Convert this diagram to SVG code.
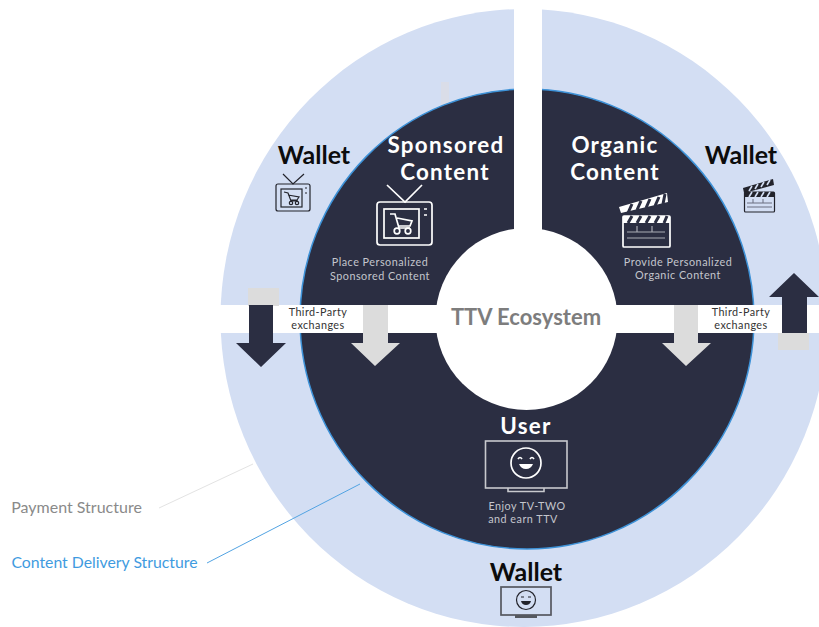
<svg xmlns="http://www.w3.org/2000/svg" width="819" height="627" viewBox="0 0 819 627">
<style>
text{font-family:"Lato","Open Sans","Liberation Sans",sans-serif;text-anchor:middle}
.h{font-size:22.400px;letter-spacing:1.25px;font-weight:700;fill:#fff}
.w{font-size:25px;font-weight:700;fill:#0c0c0c}
.s{font-size:10.800px;letter-spacing:.5px;fill:#c4c6cd}
.t{font-size:10.800px;letter-spacing:.45px;fill:#333}
.iw{fill:none;stroke:#fff;stroke-width:1.7}
.ik{fill:none;stroke:#22232b;stroke-width:1.2}
.a{fill:#2b2e42}.g{fill:#dcdcdc}
</style>
<g id="rings">
<ellipse cx="524" cy="318" rx="303.5" ry="309" fill="#d3def3"/>
<rect x="441" y="82" width="8" height="24" fill="#dadde8"/>
<ellipse cx="527" cy="319" rx="227" ry="230" fill="#2b2e42" stroke="#3d92d8" stroke-width="1.5"/>
<rect x="514" y="0" width="28" height="240" fill="#fff"/>
<rect x="220" y="305" width="599" height="28" fill="#fff"/>
<circle cx="526.500" cy="319" r="91" fill="#fff"/>
<text x="526" y="325" style="font-size:22px;font-weight:700;fill:#7d7d7d">TTV Ecosystem</text>
</g>
<g id="connectors">
<rect x="248" y="288" width="31" height="18" class="g"/>
<path class="a" d="M249 305H273V343H286L261 367L236 343H249Z"/>
<path class="g" d="M363 305H388V343H400L375 366L351 343H363Z"/>
<path class="g" d="M674 305H698V343H711L686 366L662 343H674Z"/>
<rect x="778" y="333" width="31" height="17" class="g"/>
<path class="a" d="M782 333H807V297H819L794 273L769 297H782Z"/>
<line x1="159" y1="508" x2="253" y2="464" stroke="#e3e3e3"/>
<line x1="207" y1="563" x2="360" y2="484" stroke="#52a3e2"/>
</g>
<g id="sponsored">
<text class="h" x="446" y="153">Sponsored</text>
<text class="h" x="445" y="180">Content</text>
<path class="iw" d="M387 185L405 202L422 185"/>
<rect class="iw" x="377" y="202" width="55" height="43" rx="3"/>
<rect class="iw" x="384" y="209" width="35" height="29"/>
<path class="iw" d="M424 209H427M424 215H427"/>
<path class="iw" d="M390 214H395L399 228H410M397 218L412 221L410 226H398" stroke-width="1.4"/>
<circle class="iw" cx="397" cy="231" r="2.8" stroke-width="1.4"/>
<circle class="iw" cx="408" cy="231" r="2.8" stroke-width="1.4"/>
<text class="s" x="380" y="266">Place Personalized</text>
<text class="s" x="380" y="280">Sponsored Content</text>
</g>
<g id="organic">
<text class="h" x="615" y="153">Organic</text>
<text class="h" x="615" y="180">Content</text>
<path d="M619 207L667 193L668 202L621 213Z" fill="#fff"/>
<path d="M628 213L632 204M637 210L641 201M646 208L650 199M655 206L659 197M663 204L665 194" stroke="#2b2e42" stroke-width="3"/>
<rect class="iw" x="623" y="216" width="47" height="31" rx="1"/>
<rect x="623" y="216" width="47" height="7" fill="#fff"/>
<path d="M628 223L632 216M637 223L641 216M646 223L650 216M655 223L659 216M664 223L667 216" stroke="#2b2e42" stroke-width="3"/>
<path d="M627 232H665M627 238H665M637 226V232M652 226V232" fill="none" stroke="#a9abb4" stroke-width="1.2"/>
<text class="s" x="678" y="266">Provide Personalized</text>
<text class="s" x="678" y="279">Organic Content</text>
</g>
<g id="user">
<text class="h" x="526" y="434">User</text>
<rect x="485.500" y="441" width="81.500" height="47" fill="none" stroke="#c8c9ce" stroke-width="1.6"/>
<path d="M508 488V491.500H544V488" fill="none" stroke="#c8c9ce" stroke-width="1.6"/>
<circle class="iw" cx="526" cy="463" r="15" stroke-width="1.5"/>
<path d="M518 459Q520 456 522 459M530 459Q532 456 534 459" class="iw" stroke-width="1.2"/>
<path d="M519 464H533Q531 469 526 469Q521 469 519 464Z" fill="#fff"/>
<text class="s" x="527" y="510">Enjoy TV-TWO</text>
<text class="s" x="523" y="523">and earn TTV</text>
</g>
<g id="wallet-left">
<text class="w" x="314" y="164">Wallet</text>
<path class="ik" d="M283 174L293 184L304 174"/>
<rect class="ik" x="276" y="184" width="34" height="27" rx="2"/>
<rect class="ik" x="281" y="189" width="21" height="18"/>
<path class="ik" d="M284 192L288 193L291 201H298M288 195L299 197L297 200H290" stroke-width="1"/>
<circle class="ik" cx="291" cy="203" r="1.7" stroke-width="1"/>
<circle class="ik" cx="297" cy="203" r="1.7" stroke-width="1"/>
<path class="ik" d="M305 188H307M305 193H307"/>
</g>
<g id="wallet-right">
<text class="w" x="741" y="164">Wallet</text>
<path d="M743 188L773 179L774 185L744 193Z" fill="#22232b"/>
<path d="M749 191L752 186M755 189L758 184M761 187L764 182M767 185L770 180" stroke="#d3def3" stroke-width="1.6"/>
<rect class="ik" x="744.500" y="192" width="30" height="20" rx="1"/>
<rect x="745" y="192" width="29" height="5" fill="#22232b"/>
<path d="M749 197L752 192M755 197L758 192M761 197L764 192M767 197L770 192" stroke="#d3def3" stroke-width="1.6"/>
<path d="M747 203H772M747 207H772M753 199V203M763 199V203" stroke="#6b6f80" fill="none"/>
</g>
<g id="wallet-bottom">
<text class="w" x="526" y="581">Wallet</text>
<rect x="501" y="587" width="50" height="28" fill="none" stroke="#55585f" stroke-width="1.7"/>
<rect x="515" y="615" width="22" height="3" fill="#55585f"/>
<circle class="ik" cx="526" cy="600" r="9.500" stroke-width="1.4"/>
<path d="M521 597H524M528 597H531" class="ik"/>
<path d="M521 601H531Q530 605 526 605Q522 605 521 601Z" fill="#22232b"/>
</g>
<g id="exchange-left">
<text class="t" x="318" y="316">Third-Party</text>
<text class="t" x="318" y="329">exchanges</text>
</g>
<g id="exchange-right">
<text class="t" x="741" y="316">Third-Party</text>
<text class="t" x="741" y="329">exchanges</text>
</g>
<g id="legend">
<text x="76.500" y="513" style="font-size:16px;fill:#8a8a8a">Payment Structure</text>
<text x="104.500" y="568" style="font-size:15.800px;fill:#3f9be0">Content Delivery Structure</text>
</g>
</svg>
